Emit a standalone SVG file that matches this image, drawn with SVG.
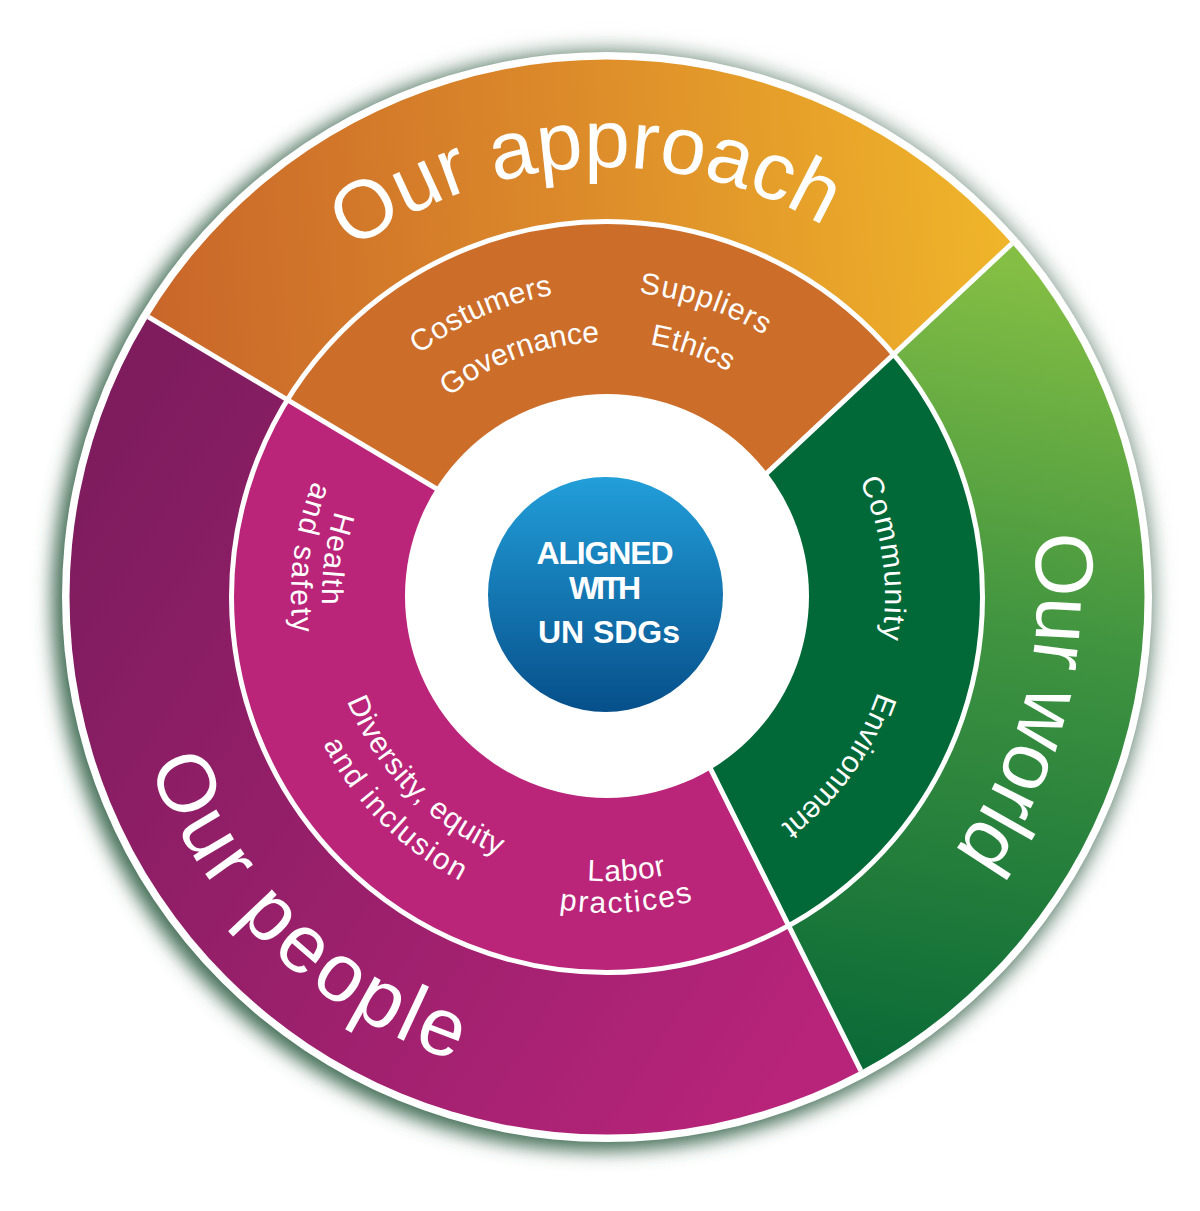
<svg xmlns="http://www.w3.org/2000/svg" xmlns:xlink="http://www.w3.org/1999/xlink" width="1200" height="1211" viewBox="0 0 1200 1211">
<style>
.big{font-family:"Liberation Sans",Arial,sans-serif;font-size:82px;fill:#ffffff;}
.small{font-family:"Liberation Sans",Arial,sans-serif;font-size:30px;fill:#ffffff;}
.ctr{font-family:"Liberation Sans",Arial,sans-serif;font-size:32px;font-weight:bold;fill:#ffffff;text-anchor:middle;}
.sep{stroke:#ffffff;stroke-width:5;fill:none;}
</style>
<defs>
<filter id="blur" x="-20%" y="-20%" width="140%" height="140%"><feGaussianBlur stdDeviation="10"/></filter>
<clipPath id="clipOuter"><circle cx="607" cy="597" r="537.5"/></clipPath>
<clipPath id="clipInner"><circle cx="607" cy="597" r="375"/></clipPath>
<linearGradient id="gApproach" gradientUnits="userSpaceOnUse" x1="150" y1="330" x2="1010" y2="250">
<stop offset="0" stop-color="#c9662a"/><stop offset="0.5" stop-color="#dc8a2a"/><stop offset="1" stop-color="#f0b52a"/>
</linearGradient>
<linearGradient id="gWorld" gradientUnits="userSpaceOnUse" x1="980" y1="260" x2="830" y2="1060">
<stop offset="0" stop-color="#84be44"/><stop offset="0.45" stop-color="#3f9340"/><stop offset="1" stop-color="#0a6a37"/>
</linearGradient>
<linearGradient id="gPeople" gradientUnits="userSpaceOnUse" x1="70" y1="500" x2="850" y2="1000">
<stop offset="0" stop-color="#7e1c5e"/><stop offset="1" stop-color="#b8247a"/>
</linearGradient>
<linearGradient id="gSphere" gradientUnits="userSpaceOnUse" x1="0" y1="478" x2="0" y2="712">
<stop offset="0" stop-color="#229ed9"/><stop offset="1" stop-color="#064f8a"/>
</linearGradient>
<path id="pApproach" d="M177.3,582.0 A430,430 0 0 1 1032.8,537.2"/>
<path id="pWorld" d="M747.0,190.4 A430,430 0 0 1 539.7,1021.7"/>
<path id="pPeople" d="M227.8,289.9 A488,488 0 0 0 927.2,965.3"/>
<path id="pCostumers" d="M316.7,696.9 A307,307 0 0 1 875.5,448.2"/>
<path id="pGovernance" d="M360.7,663.0 A255,255 0 0 1 838.1,489.2"/>
<path id="pSuppliers" d="M326.4,475.0 A306,306 0 0 1 904.5,668.4"/>
<path id="pEthics" d="M373.1,492.9 A256,256 0 0 1 855.4,658.9"/>
<path id="pHealth" d="M621.9,312.4 A285,285 0 0 0 542.9,874.7"/>
<path id="pSafety" d="M620.8,281.3 A316,316 0 0 0 538.6,905.5"/>
<path id="pDiversity" d="M393.3,414.6 A281,281 0 0 0 785.7,813.7"/>
<path id="pInclusion" d="M361.9,391.3 A320,320 0 0 0 812.7,842.1"/>
<path id="pLabor" d="M326.5,641.4 A284,284 0 0 0 891.0,602.0"/>
<path id="pPractices" d="M294.5,643.7 A316,316 0 0 0 922.9,605.3"/>
<path id="pCommunity" d="M592.4,319.4 A278,278 0 0 1 669.5,867.9"/>
<path id="pEnvironment" d="M795.3,380.4 A287,287 0 0 1 459.2,843.0"/>
</defs>

<g id="shadow">
<circle cx="607" cy="597" r="550" fill="#bcc7c1" filter="url(#blur)"/>
<circle cx="600" cy="603" r="546" fill="#3f6c52" filter="url(#blur)"/>
<circle cx="607" cy="597" r="545" fill="#ffffff"/>
</g>

<g id="our-approach">
<polygon points="628,603 98.9,287.3 -300,40 -300,-300 1500,-300 1051,207" fill="url(#gApproach)" clip-path="url(#clipOuter)"/>
<text class="big"><textPath xlink:href="#pApproach" href="#pApproach" startOffset="50%" text-anchor="middle" textLength="500">Our approach</textPath></text>
</g>

<g id="our-world">
<polygon points="628,603 1051,207 1500,-300 1500,1500 881,1111.2" fill="url(#gWorld)" clip-path="url(#clipOuter)"/>
<text class="big"><textPath xlink:href="#pWorld" href="#pWorld" startOffset="50%" text-anchor="middle" textLength="335">Our world</textPath></text>
</g>

<g id="our-people">
<polygon points="628,603 881,1111.2 -300,1500 -300,60 98.9,287.3" fill="url(#gPeople)" clip-path="url(#clipOuter)"/>
<text class="big"><textPath xlink:href="#pPeople" href="#pPeople" startOffset="50%" text-anchor="middle" textLength="440">Our people</textPath></text>
</g>

<g id="approach-topics">
<polygon points="628,603 98.9,287.3 -300,40 -300,-300 1500,-300 1051,207" fill="#cc6d2a" clip-path="url(#clipInner)"/>
</g>
<g id="world-topics">
<polygon points="628,603 1051,207 1500,-300 1500,1500 881,1111.2" fill="#016838" clip-path="url(#clipInner)"/>
</g>
<g id="people-topics">
<polygon points="628,603 881,1111.2 -300,1500 -300,60 98.9,287.3" fill="#ba2479" clip-path="url(#clipInner)"/>
</g>

<g id="separators">
<g clip-path="url(#clipOuter)">
<line class="sep" x1="628" y1="603" x2="98.9" y2="287.3"/>
<line class="sep" x1="628" y1="603" x2="1051" y2="207"/>
<line class="sep" x1="628" y1="603" x2="881" y2="1111.2"/>
</g>
<circle class="sep" cx="607" cy="597" r="375.5"/>
</g>

<g id="center">
<circle cx="607" cy="596" r="202" fill="#ffffff"/>
<circle cx="605.5" cy="594.5" r="117.5" fill="url(#gSphere)"/>
<text class="ctr" x="605" y="564" textLength="137">ALIGNED</text>
<text class="ctr" x="605" y="599" textLength="72">WITH</text>
<text class="ctr" x="609" y="643" textLength="142">UN SDGs</text>
</g>

<g id="labels-approach">
<text class="small"><textPath xlink:href="#pCostumers" href="#pCostumers" startOffset="50%" text-anchor="middle" textLength="148">Costumers</textPath></text>
<text class="small"><textPath xlink:href="#pGovernance" href="#pGovernance" startOffset="50%" text-anchor="middle" textLength="163">Governance</textPath></text>
<text class="small"><textPath xlink:href="#pSuppliers" href="#pSuppliers" startOffset="50%" text-anchor="middle" textLength="133">Suppliers</textPath></text>
<text class="small"><textPath xlink:href="#pEthics" href="#pEthics" startOffset="50%" text-anchor="middle" textLength="84">Ethics</textPath></text>
</g>
<g id="labels-people">
<text class="small"><textPath xlink:href="#pHealth" href="#pHealth" startOffset="50%" text-anchor="middle" textLength="95">Health</textPath></text>
<text class="small"><textPath xlink:href="#pSafety" href="#pSafety" startOffset="50%" text-anchor="middle" textLength="155">and safety</textPath></text>
<text class="small"><textPath xlink:href="#pDiversity" href="#pDiversity" startOffset="50%" text-anchor="middle" textLength="222">Diversity, equity</textPath></text>
<text class="small"><textPath xlink:href="#pInclusion" href="#pInclusion" startOffset="50%" text-anchor="middle" textLength="197">and inclusion</textPath></text>
<text class="small"><textPath xlink:href="#pLabor" href="#pLabor" startOffset="50%" text-anchor="middle" textLength="80">Labor</textPath></text>
<text class="small"><textPath xlink:href="#pPractices" href="#pPractices" startOffset="50%" text-anchor="middle" textLength="135">practices</textPath></text>
</g>
<g id="labels-world">
<text class="small"><textPath xlink:href="#pCommunity" href="#pCommunity" startOffset="50%" text-anchor="middle" textLength="162">Community</textPath></text>
<text class="small"><textPath xlink:href="#pEnvironment" href="#pEnvironment" startOffset="50%" text-anchor="middle" textLength="167">Environment</textPath></text>
</g>
</svg>
